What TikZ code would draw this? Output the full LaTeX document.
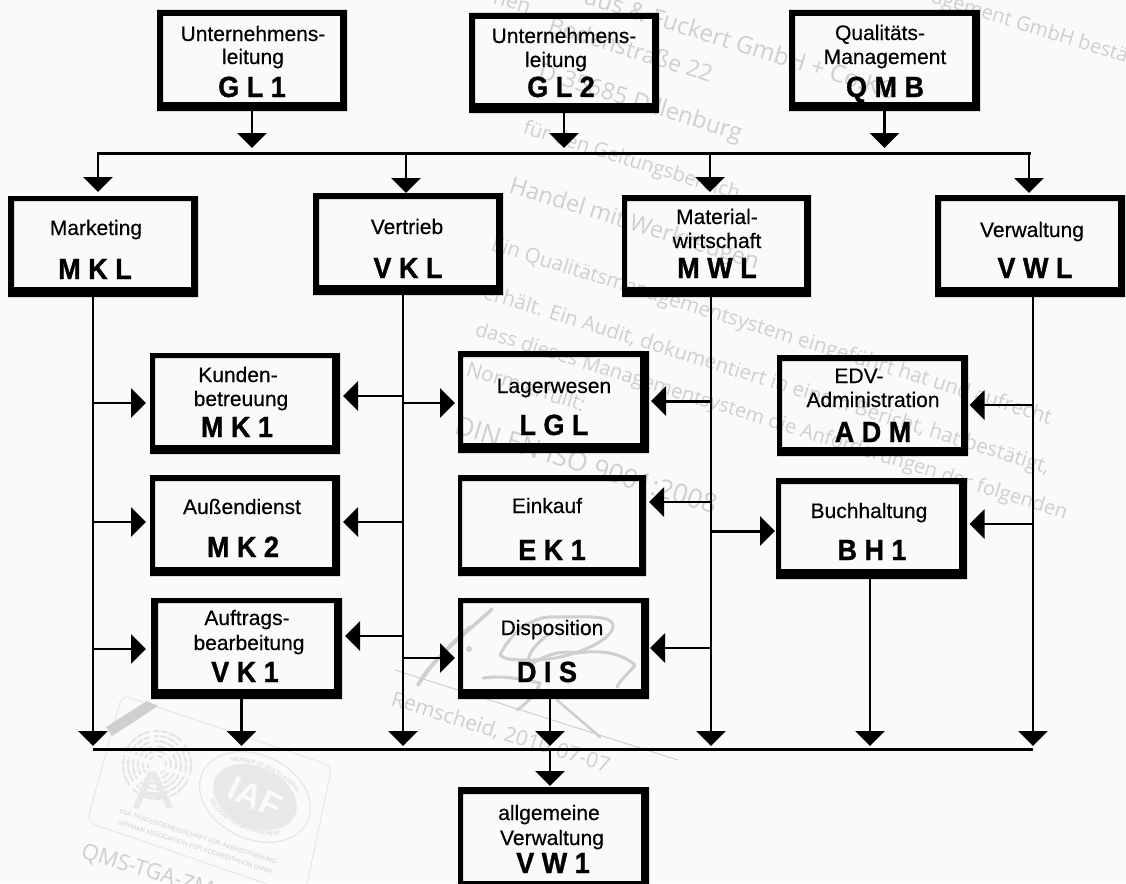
\documentclass[tikz,border=0pt]{standalone}
\usepackage{fontspec}
\usepackage{graphicx}
\setmainfont{Liberation Sans}
\newfontfamily\wmfont{Open Sans}
\newfontfamily\bodyf[FakeBold=0.35]{Liberation Sans}
\newfontfamily\codef[BoldFeatures={FakeBold=1.2}]{Liberation Sans}
\usetikzlibrary{arrows.meta,decorations.text}
\definecolor{paper}{HTML}{FAFAFA}
\definecolor{wm}{HTML}{CFCFCF}
\definecolor{wmlight}{HTML}{E8E8E8}
\tikzset{
  orgbox/.style={rectangle,inner sep=0pt,outer sep=0pt,font=\bodyf\fontsize{21}{24}\selectfont},
  conn/.style={line width=2.4pt,line cap=butt},
  arr/.style={conn,-{Triangle[length=15pt,width=29pt]}},
  gap/.style={shorten >=#1pt},
  wmtext/.style={text=wm,rotate=-17.3,inner sep=0pt,font=\wmfont\fontsize{#1}{#1}\selectfont},
  wmtext/.default=20,
  logotext/.style={rotate=-18,inner sep=0pt,text=wm,anchor=base west,font=\fontsize{6.4}{7}\selectfont},
  sig/.style={wm,line cap=round,line join=round},
}
\def\parseouter#1,#2,#3,#4\relax{\def\xa{#1}\def\ya{#2}\def\xb{#3}\def\yb{#4}}
\def\parseinner#1,#2,#3,#4\relax{\def\ia{#1}\def\ja{#2}\def\ib{#3}\def\jb{#4}}
% one line of a box, at picture position (x = centre, y = baseline)
\newcommand\lin[3]{\pgfmathsetmacro\dxx{#1-\curcx}\pgfmathsetmacro\dyy{\curcy-#2}%
  \makebox[0pt][l]{\kern\dxx pt\raisebox{\dyy pt}[0pt][0pt]{\makebox[0pt][c]{#3}}}}
\newcommand\cod[1]{\scalebox{1}[1.08]{\codef\fontsize{27}{27}\bfseries\selectfont #1}}
\newcommand\boxn[4]{\parseouter#2\relax\parseinner#3\relax
  \pgfmathsetmacro\curcx{(\xa+\xb)/2}\pgfmathsetmacro\curcy{(\ya+\yb)/2}%
  \pgfmathsetmacro\bw{\xb-\xa}\pgfmathsetmacro\bh{\yb-\ya}%
  \node[orgbox,minimum width=\bw pt,minimum height=\bh pt] (#1) at (\curcx,\curcy) {#4};
  \fill[black,even odd rule] (\xa,\ya) rectangle (\xb,\yb) (\ia,\ja) rectangle (\ib,\jb);
}
\begin{document}
\begin{tikzpicture}[x=1pt,y=-1pt]
\useasboundingbox (0,0) rectangle (1126,883);
\fill[paper] (0,0) rectangle (1126,883);
% --- watermark ---
\begin{scope}
\clip (0,0) rectangle (1126,883);
\node[wmtext=21,anchor=base west] (w0) at (492,3) {hen};
\node[wmtext=24,anchor=base east] (w1) at (893,100) {aus \& Fuckert GmbH + Co.KG};
\node[wmtext=20,anchor=base east] (w1b) at (1126,63) {agement GmbH bestä};
\node[wmtext=23,anchor=base west] (w2) at (547,32) {Bodenstraße 22};
\node[wmtext=23.5,anchor=base west] (w3) at (537,78) {D-35685 Dillenburg};
\node[wmtext=20,anchor=base west] (w4) at (522,133) {für den Geltungsbereich};
\node[wmtext=23.3,anchor=base west] (w5) at (508,192) {Handel mit Werkzeugen};
\node[wmtext=20.5,anchor=base west] (w6) at (490,250) {Ein Qualitätsmanagementsystem eingeführt hat und aufrecht};
\node[wmtext=20.5,anchor=base west] (w7) at (482,298) {erhält. Ein Audit, dokumentiert in einem Bericht, hat bestätigt,};
\node[wmtext=20,anchor=base west] (w8) at (474,335) {dass dieses Managementsystem die Anforderungen der folgenden};
\node[wmtext=20.5,anchor=base west] (w9) at (465,375) {Norm erfüllt:};
\node[wmtext=26.5,anchor=base west] (w10) at (453,433) {DIN EN ISO 9001:2008};
\node[wmtext=21,anchor=base west] (w11) at (390,705) {Remscheid, 2010-07-07};
\node[wmtext=22,anchor=base west] (w12) at (80,857) {QMS-TGA-ZM};
% signature line and scrawl
\draw[wm,line width=1pt] (395,670) -- (678,760);
\draw[sig,line width=3.5pt] (492,609) .. controls (470,630) and (430,660) .. (418,685) .. controls (430,665) and (455,640) .. (470,627);
\fill[wm] (469,649) circle[radius=3];
\draw[sig,line width=3pt] (500,655) .. controls (515,625) and (540,615) .. (557,617) .. controls (585,617) and (612,615) .. (613,625) .. controls (615,640) and (570,660) .. (533,660) .. controls (515,660) and (505,660) .. (500,655);
\draw[sig,line width=3pt] (550,633) .. controls (535,645) and (525,655) .. (530,665) .. controls (545,655) and (560,650) .. (577,653) .. controls (600,650) and (620,652) .. (635,665) .. controls (630,672) and (620,680) .. (617,687);
\draw[sig,line width=3pt] (483,678) .. controls (505,675) and (525,680) .. (540,683) .. controls (535,695) and (525,705) .. (517,710);
\draw[sig,line width=2.5pt] (557,700) -- (600,737);
% logo panel
\draw[wmlight,line width=1pt,rounded corners=8pt] (307,884) -- (332,766) -- (122,695) -- (87,822) -- (267,884);
\fill[wm] (147,701) -- (158,706) -- (112,736) -- (106,727) -- cycle;
\foreach \r in {9,14,19,24,29,34}
  \draw[wm,line width=2pt,dash pattern=on 7pt off 1.2pt,opacity=.5] (157,765) circle[radius=\r];
\foreach \a in {0,60,...,300}
  \draw[paper,line width=4pt] (157,765) -- ++(\a+20:38);
\draw[wmlight,line width=6pt] (151,772) -- (136,808) (153,772) -- (170,808) (142,795) -- (165,795);
\begin{scope}[rotate around={-25:(255,797)}]
\draw[wmlight,line width=1.4pt] (255,797) ellipse[x radius=58,y radius=42];
\fill[wmlight] (255,797) ellipse[x radius=44,y radius=30];
\path[decorate,decoration={text along path,text align=center,text color=wm,
    text={|\fontsize{5.5}{6}\selectfont|MEMBER OF MULTILATERAL}}]
    (203,797) .. controls (205,757) and (305,757) .. (307,797);
\path[decorate,decoration={text along path,text align=center,text color=wm,
    text={|\fontsize{5.5}{6}\selectfont|RECOGNITION ARRANGEMENT}}]
    (203,797) .. controls (205,842) and (305,842) .. (307,797);
\end{scope}
\node[rotate=-25,inner sep=0pt,text=paper,font=\bfseries\fontsize{34}{34}\selectfont] (iaf) at (255,797) {IAF};
\node[logotext] (tg1) at (118,813) {TGA TRÄGERGEMEINSCHAFT FÜR AKKREDITIERUNG};
\node[logotext] (tg2) at (117,824) {GERMAN ASSOCIATION FOR ACCREDITATION GMBH};
\end{scope}
% --- boxes ---
\boxn{gl1}{157,10,347,111}{163,16,340,102}{\lin{253}{41}{Unternehmens-}\lin{253}{64}{leitung}\lin{252}{97}{\cod{G L 1}}}
\boxn{gl2}{469,13,659,113}{475,19,652,103}{\lin{564}{43}{Unternehmens-}\lin{556}{67}{leitung}\lin{561}{97}{\cod{G L 2}}}
\boxn{qmb}{789,10,980,111}{795,16,972,102}{\lin{880}{40}{Qualitäts-}\lin{885}{64}{Management}\lin{885}{97}{\cod{Q M B}}}
\boxn{mkl}{8,196,198,297}{14,201,191,287}{\lin{96}{235}{Marketing}\lin{95}{279}{\cod{M K L}}}
\boxn{vkl}{313,193,503,295}{319,199,496,285}{\lin{407}{234}{Vertrieb}\lin{408}{278}{\cod{V K L}}}
\boxn{mwl}{622,195,811,297}{627,201,804,287}{\lin{717}{224}{Material-}\lin{717}{248}{wirtschaft}\lin{717}{278}{\cod{M W L}}}
\boxn{vwl}{935,195,1125,297}{941,201,1118,287}{\lin{1032}{237}{Verwaltung}\lin{1035}{278}{\cod{V W L}}}
\boxn{mk1}{150,353,340,454}{155,358,332,445}{\lin{238}{382}{Kunden-}\lin{241}{406}{betreuung}\lin{237}{437}{\cod{M K 1}}}
\boxn{mk2}{150,475,340,576}{155,481,332,567}{\lin{242}{514}{Außendienst}\lin{243}{557}{\cod{M K 2}}}
\boxn{vk1}{151,598,342,699}{158,603,334,689}{\lin{247}{625}{Auftrags-}\lin{249}{650}{bearbeitung}\lin{245}{682}{\cod{V K 1}}}
\boxn{lgl}{458,351,649,453}{463,357,640,443}{\lin{554}{393}{Lagerwesen}\lin{554}{435}{\cod{L G L}}}
\boxn{ek1}{458,475,646,576}{462,481,639,567}{\lin{547}{513}{Einkauf}\lin{552}{560}{\cod{E K 1}}}
\boxn{dis}{458,598,649,699}{463,603,641,689}{\lin{552}{635}{Disposition}\lin{547}{682}{\cod{D I S}}}
\boxn{adm}{777,355,968,456}{782,361,961,447}{\lin{859}{383}{EDV-}\lin{873}{407}{Administration}\lin{873}{442}{\cod{A D M}}}
\boxn{bh1}{776,478,967,579}{781,484,959,569}{\lin{869}{518}{Buchhaltung}\lin{872}{560}{\cod{B H 1}}}
\boxn{vw1}{458,787,649,884}{463,794,641,881}{\lin{549}{820}{allgemeine}\lin{552}{845}{Verwaltung}\lin{553}{873}{\cod{V W 1}}}
% --- top bus ---
\coordinate (busL) at (98,153);
\coordinate (busV) at (406,153);
\coordinate (busM) at (710,153);
\coordinate (busR) at (1029,153);
\draw[conn,line width=3pt,line cap=rect] (busL) -- (busR);
\draw[arr,gap=5] (gl1.south) -- (gl1.south |- busL);
\draw[arr,gap=5] (gl2.south) -- (gl2.south |- busL);
\draw[arr,gap=5] (qmb.south) -- (qmb.south |- busL);
\draw[arr,gap=4] (busL) -- (busL |- mkl.north);
\draw[arr,gap=0] (busV) -- (busV |- vkl.north);
\draw[arr,gap=3] (busM) -- (busM |- mwl.north);
\draw[arr,gap=2] (busR) -- (busR |- vwl.north);
% --- bottom bus ---
\coordinate (botA) at (93,749);
\coordinate (botB) at (241.5,749);
\coordinate (botC) at (403,749);
\coordinate (botD) at (550,749);
\coordinate (botE) at (711,749);
\coordinate (botF) at (870,749);
\coordinate (botG) at (1033,749);
\draw[conn,line width=3pt] (botA) -- (botG);
\draw[arr,gap=3] (botA |- mkl.south) -- (botA);
\draw[arr,gap=3] (botB |- vk1.south) -- (botB);
\draw[arr,gap=3] (botC |- vkl.south) -- (botC);
\draw[arr,gap=3] (botD |- dis.south) -- (botD);
\draw[arr,gap=3] (botE |- mwl.south) -- (botE);
\draw[arr,gap=3] (botF |- bh1.south) -- (botF);
\draw[arr,gap=3] (botG |- vwl.south) -- (botG);
\draw[arr,gap=1] (botD) -- (botD |- vw1.north);
% --- branches from the trunks ---
\coordinate (a1) at (93,403);
\coordinate (a2) at (93,522);
\coordinate (a3) at (93,649);
\draw[arr,gap=4] (a1) -- (a1 -| mk1.west);
\draw[arr,gap=4] (a2) -- (a2 -| mk2.west);
\draw[arr,gap=5] (a3) -- (a3 -| vk1.west);
\coordinate (b1) at (403,396);
\coordinate (b2) at (403,522);
\coordinate (b3) at (403,636);
\coordinate (b4) at (403,403);
\coordinate (b5) at (403,658);
\draw[arr,gap=3] (b1) -- (b1 -| mk1.east);
\draw[arr,gap=3] (b2) -- (b2 -| mk2.east);
\draw[arr,gap=3] (b3) -- (b3 -| vk1.east);
\draw[arr,gap=3] (b4) -- (b4 -| lgl.west);
\draw[arr,gap=3] (b5) -- (b5 -| dis.west);
\coordinate (c1) at (711,401);
\coordinate (c2) at (711,502);
\coordinate (c3) at (711,648);
\coordinate (c4) at (711,531);
\draw[arr,gap=2,line width=3pt] (c1) -- (c1 -| lgl.east);
\draw[arr,gap=3] (c2) -- (c2 -| ek1.east);
\draw[arr,gap=1] (c3) -- (c3 -| dis.east);
\draw[arr,gap=1,line width=3pt] (c4) -- (c4 -| bh1.west);
\coordinate (d1) at (1033,405);
\coordinate (d2) at (1033,524);
\draw[arr,gap=1.5] (d1) -- (d1 -| adm.east);
\draw[arr,gap=2.5] (d2) -- (d2 -| bh1.east);
\end{tikzpicture}
\end{document}
